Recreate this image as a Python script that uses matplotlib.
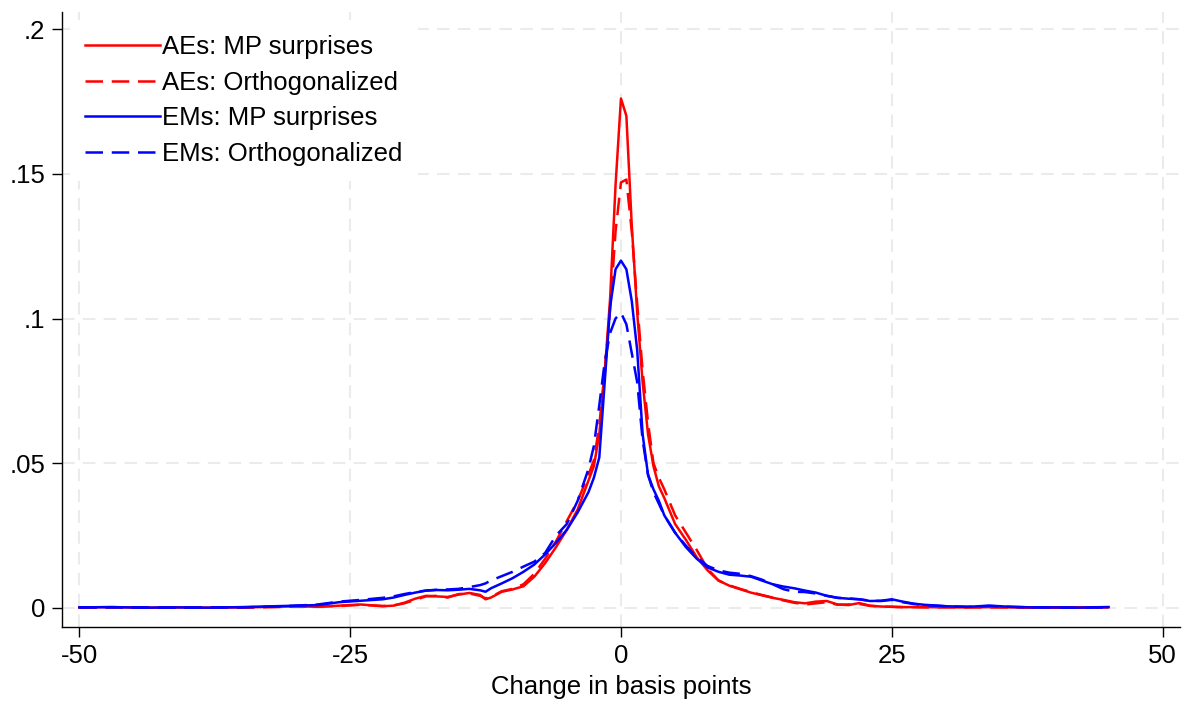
import matplotlib
matplotlib.use("Agg")
import matplotlib.pyplot as plt
import numpy as np

# grid of basis point changes (shared by all four densities)
bp = [-50, -47, -44, -41, -38, -35, -32, -30, -28, -26, -24, -22, -21, -20, -19,
      -18, -17, -16, -15, -14, -13, -12.5, -12, -11, -10, -9, -8, -7, -6, -5,
      -4, -3, -2.5, -2, -1.5, -1, -0.5, 0, 0.5, 1, 1.5, 2, 2.5, 3, 3.5, 4,
      5, 6, 7, 8, 9, 10, 11, 12, 13, 14, 15, 16, 17, 18, 19, 20, 21, 22, 23,
      24, 25, 26, 27, 28, 30, 32, 34, 36, 38, 40, 42, 45]

ae_mp = [0.0002, 0.0003, 0.0001, 0.0002, 0.0001, 0.0002, 0.0004, 0.0006, 0.0004, 0.0008,
         0.0012, 0.0006, 0.0008, 0.0018, 0.0032, 0.0042, 0.0040, 0.0038, 0.0046, 0.0052,
         0.0045, 0.0030, 0.0036, 0.0056, 0.0064, 0.0075, 0.0108, 0.0155, 0.021, 0.027,
         0.034, 0.044, 0.049, 0.060, 0.081, 0.107, 0.146, 0.176, 0.170, 0.132, 0.102, 0.078,
         0.060, 0.049, 0.042, 0.038, 0.029, 0.0235, 0.0175, 0.013, 0.0095, 0.0077, 0.0065,
         0.0053, 0.0044, 0.0035, 0.0028, 0.0020, 0.0016, 0.0022, 0.0024, 0.0012, 0.0010,
         0.0017, 0.0008, 0.0005, 0.0004, 0.0003, 0.0003, 0.0003, 0.0002, 0.0002, 0.0003,
         0.0002, 0.0002, 0.0001, 0.0002, 0.0003]

ae_orth = [0.0001, 0.0002, 0.0002, 0.0001, 0.0002, 0.0001, 0.0003, 0.0005, 0.0005, 0.0007,
           0.0011, 0.0007, 0.0009, 0.0016, 0.0028, 0.0040, 0.0042, 0.0036, 0.0048, 0.0050,
           0.0042, 0.0033, 0.0038, 0.0058, 0.0066, 0.0082, 0.0118, 0.017, 0.023, 0.030,
           0.037, 0.046, 0.051, 0.063, 0.082, 0.103, 0.130, 0.147, 0.148, 0.130, 0.105, 0.082,
           0.064, 0.050, 0.045, 0.041, 0.032, 0.026, 0.020, 0.0135, 0.0095, 0.0078, 0.0066,
           0.0055, 0.0045, 0.0036, 0.0026, 0.0018, 0.0012, 0.0016, 0.0020, 0.0011, 0.0012,
           0.0014, 0.0007, 0.0005, 0.0004, 0.0003, 0.0003, 0.0002, 0.0003, 0.0002, 0.0002,
           0.0002, 0.0001, 0.0002, 0.0002, 0.0002]

em_mp = [0.0002, 0.0003, 0.0001, 0.0002, 0.0001, 0.0003, 0.0006, 0.0008, 0.0010, 0.0020,
         0.0025, 0.0030, 0.0036, 0.0045, 0.0053, 0.0060, 0.0062, 0.0061, 0.0063, 0.0066,
         0.0061, 0.0056, 0.0068, 0.0085, 0.0103, 0.0125, 0.0150, 0.0185, 0.0225, 0.027,
         0.033, 0.040, 0.045, 0.052, 0.078, 0.104, 0.117, 0.120, 0.117, 0.106, 0.089, 0.060,
         0.046, 0.041, 0.037, 0.032, 0.026, 0.021, 0.017, 0.014, 0.0125, 0.0115, 0.0112,
         0.0108, 0.0095, 0.0082, 0.0074, 0.0068, 0.0060, 0.0053, 0.0042, 0.0035, 0.0032,
         0.0030, 0.0024, 0.0025, 0.0030, 0.0022, 0.0015, 0.0011, 0.0006, 0.0004, 0.0008,
         0.0004, 0.0002, 0.0002, 0.0001, 0.0003]

em_orth = [0.0002, 0.0002, 0.0002, 0.0001, 0.0002, 0.0002, 0.0005, 0.0008, 0.0012, 0.0022,
           0.0028, 0.0035, 0.0040, 0.0048, 0.0055, 0.0060, 0.0063, 0.0064, 0.0066, 0.0072,
           0.0079, 0.0085, 0.0095, 0.0110, 0.0125, 0.0143, 0.016, 0.019, 0.025, 0.029,
           0.037, 0.048, 0.056, 0.070, 0.085, 0.095, 0.100, 0.102, 0.098, 0.088, 0.078, 0.058,
           0.046, 0.040, 0.036, 0.032, 0.026, 0.0215, 0.0175, 0.0145, 0.013, 0.0122, 0.0118,
           0.0110, 0.0098, 0.0082, 0.0065, 0.0056, 0.0055, 0.0050, 0.0042, 0.0035, 0.0033,
           0.0030, 0.0025, 0.0024, 0.0028, 0.0020, 0.0014, 0.0010, 0.0006, 0.0004, 0.0007,
           0.0004, 0.0002, 0.0002, 0.0001, 0.0002]

x_ticks = [-50, -25, 0, 25, 50]
y_ticks = [0, 0.05, 0.1, 0.15, 0.2]
y_labels = ["0", ".05", ".1", ".15", ".2"]

plt.rcParams['font.family'] = ['Liberation Sans', 'DejaVu Sans']
fs = 18.5

fig = plt.figure(figsize=(11.83, 7.03), dpi=100)
ax = fig.add_axes([0.0524, 0.108, 0.945, 0.875])

dash = (0, (7, 3.5))
lw = 1.8
ax.plot(bp, ae_mp, color='#ff0000', lw=lw, label='AEs: MP surprises', zorder=3)
ax.plot(bp, ae_orth, color='#ff0000', lw=lw, ls=dash, label='AEs: Orthogonalized', zorder=3)
ax.plot(bp, em_mp, color='#0000ff', lw=lw, label='EMs: MP surprises', zorder=3)
ax.plot(bp, em_orth, color='#0000ff', lw=lw, ls=dash, label='EMs: Orthogonalized', zorder=3)

ax.set_xlim(-51.6, 51.6)
ax.set_ylim(-0.0066, 0.2059)
ax.set_xticks(x_ticks)
ax.set_xticklabels([str(t) for t in x_ticks])
ax.set_yticks(y_ticks)
ax.set_yticklabels(y_labels)
ax.tick_params(labelsize=fs, length=7, width=1, direction='out', pad=5)

ax.grid(True, color='#ebebeb', lw=1.5, ls=(0, (6, 4)), zorder=0)
ax.set_axisbelow(True)
for side in ['top', 'right']:
    ax.spines[side].set_visible(False)
ax.spines['left'].set_linewidth(1)
ax.spines['bottom'].set_linewidth(1)

ax.set_xlabel("Change in basis points", fontsize=fs, labelpad=5)

leg = ax.legend(loc='upper left', fontsize=fs, frameon=True, fancybox=False,
                handlelength=2.9, handletextpad=0.1, labelspacing=0.45,
                borderaxespad=0.3, borderpad=0.6)
leg.get_frame().set_facecolor('white')
leg.get_frame().set_edgecolor('none')
leg.get_frame().set_alpha(1)

fig.savefig("out.png", dpi=100)
